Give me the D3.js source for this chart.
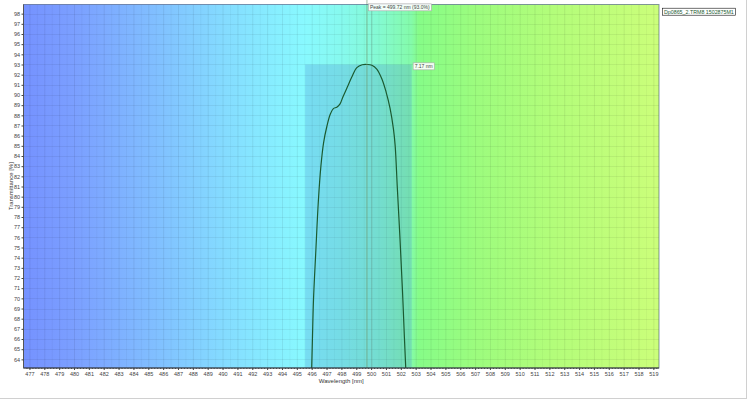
<!DOCTYPE html>
<html><head><meta charset="utf-8">
<script src="https://cdn.jsdelivr.net/npm/d3@7/dist/d3.min.js"></script>
<style>html,body{margin:0;padding:0;background:#fff}svg{display:block;font-family:"Liberation Sans",Arial,sans-serif}</style>
</head><body><svg id="c" width="748" height="400"></svg>
<script>
// ---- data ----
const wavelength =    [495.98,496.05,496.12,496.28,496.45,496.62,496.80,497.02,497.25,497.46,497.69,497.90,498.10,498.40,498.70,499.04,499.40,499.72,500.05,500.38,500.72,501.01,501.28,501.50,501.62,501.76,501.95,502.11,502.24,502.33,502.38];
const transmittance = [62.0,  66.0,  69.8,  74.7,  79.6,  83.0,  85.3,  86.9,  88.1,  88.66, 88.8,  89.1,  89.8,  90.78, 91.76, 92.69, 92.97, 93.0,  92.93, 92.55, 91.6,  90.29, 88.66, 86.69, 85.0,  81.0,  75.7,  70.8,  66.2,  63.2,  62.0];
const xTicks = d3.range(477, 520, 1);
const yTicks = d3.range(64, 99, 1);
const peakWl = 499.72, peakT = 93.0;
const bandStart = 495.56, bandEnd = 502.73, bandWidth = 7.17;
const secondLineWl = 500.05;
const legendLabel = "Dp0865_2.TRM8 1502875M1";
const peakLabel = "Peak = 499.72 nm (93.0%)";
const bandLabel = "7.17 nm";
const xTitle = "Wavelength [nm]", yTitle = "Transmittance [%]";
const bgWl =    [476.6,   480,      485,      490,      495.5,    498,      500.5,    502.7,    503.2,    507,      512,      519.4];
const bgColor = ["#7592ff","#7b9fff","#80bcff","#84dbff","#88f9ff","#86f9ee","#84fad2","#84fbaa","#86fc88","#9cfc7e","#b2fd7a","#cbfe7a"];

// ---- layout ----
const L = 23.5, R = 659, T = 4.5, B = 368;
const x = d3.scaleLinear().domain([476.6, 519.38]).range([L, R]);
const y = d3.scaleLinear().domain([63.15, 98.9]).range([B, T]);
const svg = d3.select("#c");
const defs = svg.append("defs");
const grad = defs.append("linearGradient").attr("id","bg").attr("gradientUnits","userSpaceOnUse")
  .attr("x1", L).attr("x2", R).attr("y1",0).attr("y2",0);
bgWl.forEach((w,i)=>grad.append("stop").attr("offset",(x(w)-L)/(R-L)).attr("stop-color",bgColor[i]));
defs.append("clipPath").attr("id","clip").append("rect").attr("x",L).attr("y",T).attr("width",R-L).attr("height",B-T);

// page frame
svg.append("line").attr("x1",746.5).attr("x2",746.5).attr("y1",0).attr("y2",398.5).attr("stroke","#d0d0d0");
svg.append("line").attr("x1",0).attr("x2",747).attr("y1",398.5).attr("y2",398.5).attr("stroke","#d0d0d0");

svg.append("rect").attr("x",L).attr("y",T).attr("width",R-L).attr("height",B-T).attr("fill","url(#bg)");

const g = svg.append("g").attr("clip-path","url(#clip)");
// grid
g.selectAll(".vg").data(xTicks).join("line").attr("x1",d=>x(d)+0.5).attr("x2",d=>x(d)+0.5).attr("y1",T).attr("y2",B)
  .attr("stroke","rgba(0,0,0,0.07)");
g.selectAll(".vg2").data(xTicks).join("line").attr("x1",d=>x(d+0.5)+0.5).attr("x2",d=>x(d+0.5)+0.5).attr("y1",T).attr("y2",B)
  .attr("stroke","rgba(0,0,0,0.035)");
g.selectAll(".hg").data(yTicks).join("line").attr("y1",d=>Math.round(y(d))+0.5).attr("y2",d=>Math.round(y(d))+0.5).attr("x1",L).attr("x2",R)
  .attr("stroke","rgba(0,0,0,0.06)");

// band
g.append("rect").attr("x",x(bandStart)).attr("y",y(peakT)).attr("width",x(bandEnd)-x(bandStart)).attr("height",B-y(peakT))
  .attr("fill","rgba(60,120,200,0.22)");

// vertical lines
g.append("line").attr("x1",x(secondLineWl)).attr("x2",x(secondLineWl)).attr("y1",T).attr("y2",B)
  .attr("stroke","rgba(110,150,130,0.35)").attr("stroke-width",1);
svg.append("line").attr("x1",x(peakWl)).attr("x2",x(peakWl)).attr("y1",0).attr("y2",B)
  .attr("stroke","rgba(110,150,110,0.65)").attr("stroke-width",1);

// curve
const line = d3.line().x((d,i)=>x(wavelength[i])).y(d=>y(d)).curve(d3.curveCatmullRom.alpha(0.5));
g.append("path").attr("d",line(transmittance)).attr("fill","none").attr("stroke","#1b5a30").attr("stroke-width",1.2);

// frame
svg.append("rect").attr("x",L).attr("y",T).attr("width",R-L).attr("height",B-T).attr("fill","none").attr("stroke","rgba(60,80,120,0.6)").attr("stroke-width",1);
svg.append("line").attr("x1",L).attr("x2",R).attr("y1",B).attr("y2",B).attr("stroke","#333");
svg.append("line").attr("x1",L).attr("x2",L).attr("y1",T).attr("y2",B).attr("stroke","#555");

// axes
const xa = svg.append("g").attr("transform",`translate(0,${B})`)
  .call(d3.axisBottom(x).tickValues(xTicks).tickSize(2).tickFormat(d3.format("d")));
const xm = svg.append("g").attr("transform",`translate(0,${B})`)
  .call(d3.axisBottom(x).tickValues(d3.range(476.8,519.3,0.2)).tickSize(1).tickFormat(""));
const ya = svg.append("g").attr("transform",`translate(${L},0)`)
  .call(d3.axisLeft(y).tickValues(yTicks).tickSize(2).tickFormat(d3.format("d")));
[xa,xm,ya].forEach(a=>{a.select(".domain").remove(); a.selectAll("line").attr("stroke","#444");});
xa.selectAll("text").attr("font-size",5.5).attr("fill","#444").attr("dy","0.9em").attr("y",3);
ya.selectAll("text").attr("font-size",5.5).attr("fill","#444").attr("x",-3.5);

svg.append("text").attr("x",(L+R)/2).attr("y",383).attr("text-anchor","middle").attr("font-size",6).attr("fill","#333").text(xTitle);
svg.append("text").attr("transform",`translate(12.5,${(T+B)/2}) rotate(-90)`).attr("text-anchor","middle").attr("font-size",6).attr("fill","#333").text(yTitle);

// labels
function boxLabel(px, py, txt, fs, stroke, color){
  const lg = svg.append("g");
  const r = lg.append("rect");
  const t = lg.append("text").attr("x",px+2).attr("y",py).attr("font-size",fs).attr("fill",color).attr("dominant-baseline","middle").text(txt);
  const bb = t.node().getBBox();
  r.attr("x",bb.x-1.5).attr("y",bb.y-0.5).attr("width",bb.width+3).attr("height",bb.height+1)
    .attr("fill","rgba(255,255,255,0.9)").attr("stroke",stroke).attr("stroke-width",0.6);
}
boxLabel(x(peakWl)+1, 8, peakLabel, 5, "#aaa", "#444");
boxLabel(x(bandEnd)+1, 67, bandLabel, 5, "#aaa", "#444");
boxLabel(662, 12.3, legendLabel, 5.3, "#111", "#1b5a30");
</script></body></html>
